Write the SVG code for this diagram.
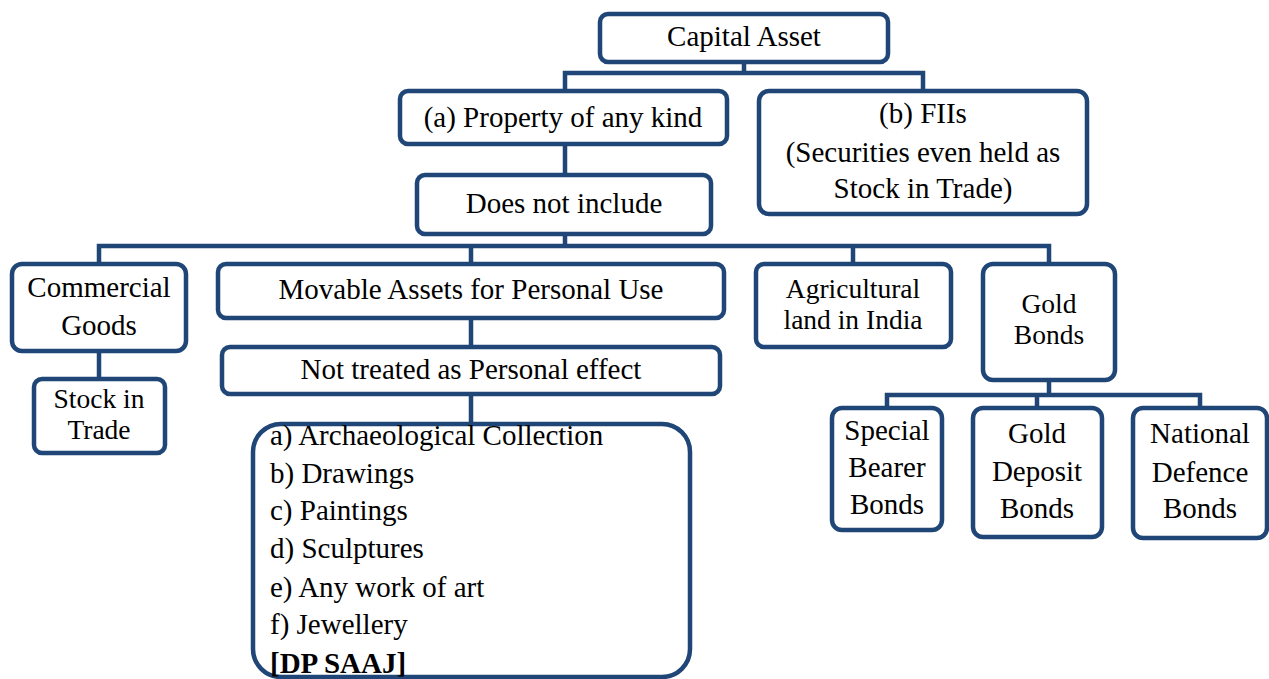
<svg xmlns="http://www.w3.org/2000/svg" width="1269" height="679" viewBox="0 0 1269 679">
  <style>
    .box { fill: #ffffff; stroke: #1f4677; stroke-width: 4.5; }
    .wire { fill: none; stroke: #1f4677; stroke-width: 4.5; stroke-linecap: square; }
    text { font-family: "Liberation Serif", "Times New Roman", serif; font-size: 29px; fill: #000000; }
    .c { text-anchor: middle; }
    .b { font-weight: bold; }
    .tight { font-size: 27.5px; }
  </style>
  <rect width="1269" height="679" fill="#ffffff"/>

  <!-- connectors -->
  <g id="connectors">
    <path class="wire" d="M744 62 V73 M565 73 H923 M565 73 V91 M923 73 V91"/>
    <path class="wire" d="M565 144 V175"/>
    <path class="wire" d="M565 234 V246 M99 246 H1049 M99 246 V264 M471 246 V264 M853 246 V264 M1049 246 V264"/>
    <path class="wire" d="M99 351 V379"/>
    <path class="wire" d="M471 318 V347"/>
    <path class="wire" d="M471 394 V424"/>
    <path class="wire" d="M1049 380 V395 M887 395 H1200 M887 395 V408 M1037 395 V408 M1200 395 V408"/>
  </g>

  <g id="capital-asset">
    <rect class="box" x="600" y="14" width="288" height="48" rx="8"/>
    <text class="c" x="744" y="46">Capital Asset</text>
  </g>

  <g id="property">
    <rect class="box" x="400" y="91" width="327" height="53" rx="8"/>
    <text class="c" x="563" y="127">(a) Property of any kind</text>
  </g>

  <g id="fiis">
    <rect class="box" x="759" y="91" width="328" height="123" rx="10"/>
    <text class="c" x="923" y="123">(b) FIIs</text>
    <text class="c" x="923" y="162">(Securities even held as</text>
    <text class="c" x="923" y="198">Stock in Trade)</text>
  </g>

  <g id="does-not-include">
    <rect class="box" x="417" y="175" width="294" height="59" rx="8"/>
    <text class="c" x="564" y="213">Does not include</text>
  </g>

  <g id="commercial-goods">
    <rect class="box" x="12" y="264" width="174" height="87" rx="10"/>
    <text class="c" x="99" y="297">Commercial</text>
    <text class="c" x="99" y="335">Goods</text>
  </g>

  <g id="stock-in-trade">
    <rect class="box" x="34" y="379" width="131" height="74" rx="8"/>
    <text class="c tight" x="99" y="408">Stock in</text>
    <text class="c tight" x="99" y="439">Trade</text>
  </g>

  <g id="movable-assets">
    <rect class="box" x="218" y="264" width="506" height="54" rx="8"/>
    <text class="c" x="471" y="299">Movable Assets for Personal Use</text>
  </g>

  <g id="not-personal-effect">
    <rect class="box" x="222" y="347" width="498" height="47" rx="8"/>
    <text class="c" x="471" y="379">Not treated as Personal effect</text>
  </g>

  <g id="items">
    <rect class="box" x="253" y="424" width="437" height="253" rx="28"/>
    <text x="270" y="445">a) Archaeological Collection</text>
    <text x="270" y="483">b) Drawings</text>
    <text x="270" y="520">c) Paintings</text>
    <text x="270" y="558">d) Sculptures</text>
    <text x="270" y="597">e) Any work of art</text>
    <text x="270" y="634">f) Jewellery</text>
    <text class="b" x="270" y="673">[DP SAAJ]</text>
  </g>

  <g id="agricultural-land">
    <rect class="box" x="756" y="264" width="195" height="83" rx="8"/>
    <text class="c tight" x="853" y="298">Agricultural</text>
    <text class="c tight" x="853" y="329">land in India</text>
  </g>

  <g id="gold-bonds">
    <rect class="box" x="983" y="264" width="132" height="116" rx="10"/>
    <text class="c tight" x="1049" y="313">Gold</text>
    <text class="c tight" x="1049" y="344">Bonds</text>
  </g>

  <g id="special-bearer-bonds">
    <rect class="box" x="832" y="408" width="110" height="122" rx="10"/>
    <text class="c" x="887" y="440">Special</text>
    <text class="c" x="887" y="477">Bearer</text>
    <text class="c" x="887" y="514">Bonds</text>
  </g>

  <g id="gold-deposit-bonds">
    <rect class="box" x="973" y="408" width="129" height="129" rx="10"/>
    <text class="c" x="1037" y="443">Gold</text>
    <text class="c" x="1037" y="481">Deposit</text>
    <text class="c" x="1037" y="518">Bonds</text>
  </g>

  <g id="national-defence-bonds">
    <rect class="box" x="1133" y="408" width="134" height="130" rx="10"/>
    <text class="c" x="1200" y="443">National</text>
    <text class="c" x="1200" y="482">Defence</text>
    <text class="c" x="1200" y="518">Bonds</text>
  </g>
</svg>
